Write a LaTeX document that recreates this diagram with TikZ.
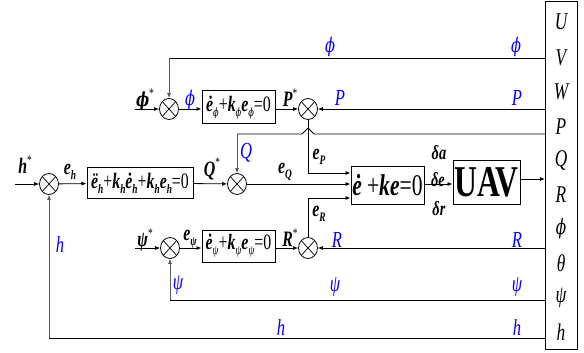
\documentclass[tikz,border=0pt]{standalone}
\usepackage{fontspec}
\setmainfont[FakeStretch=0.72]{Liberation Serif}
\newfontfamily\dvs[FakeStretch=0.72,Scale=0.88]{DejaVu Serif}
\usetikzlibrary{arrows.meta,shapes.geometric}
\newcommand\sbs[1]{\raisebox{-0.5ex}{\fontsize{13}{13}\selectfont #1}}
\newcommand\bi[1]{\textbf{\textit{#1}}}
\newcommand\st{\raisebox{0.9ex}{\fontsize{13}{13}\selectfont *}}
\newcommand\vph{{\dvs ϕ}}
\begin{document}
\begin{tikzpicture}[x=1pt,y=-1pt,
  >={Latex[length=5pt,width=4pt]},
  line width=0.8pt,
  sumn/.style={ellipse,draw,minimum width=19pt,minimum height=21pt,inner sep=0pt,
    path picture={\draw[line width=0.7pt] (path picture bounding box.north west) -- (path picture bounding box.south east)
      (path picture bounding box.south west) -- (path picture bounding box.north east);}},
  blk/.style={draw,rectangle,inner sep=0pt,line width=1pt,font=\fontsize{22}{22}\selectfont},
  lbl/.style={inner sep=0pt,font=\fontsize{22}{22}\selectfont},
  bl/.style={inner sep=0pt,text=blue,font=\fontsize{23}{23}\selectfont\itshape},
  rl/.style={inner sep=0pt,font=\fontsize{24}{24}\selectfont\itshape},
  fb/.style={gray!70!black}]
\useasboundingbox (0,0) rectangle (584,353);

% right output box
\node[draw,line width=1pt,minimum width=32pt,minimum height=348pt,anchor=north west,inner sep=0pt] (rb) at (545,1) {};
\node[rl] (oU) at (561,22) {U};
\node[rl] (oV) at (561,58) {V};
\node[rl] (oW) at (561,92) {W};
\node[rl] (oP) at (561,127) {P};
\node[rl] (oQ) at (561,160) {Q};
\node[rl] (oR) at (561,195) {R};
\node[rl] (ophi) at (561,229) {\vph};
\node[rl] (oth) at (561,263) {θ};
\node[rl] (opsi) at (561,298) {ψ};
\node[rl] (oh) at (561,332) {h};

% summing junctions
\node[sumn] (hsum) at (49,184) {};
\node[sumn] (Qsum) at (237,184) {};
\node[sumn] (phisum) at (169,109) {};
\node[sumn] (Psum) at (308,109) {};
\node[sumn] (psisum) at (170,248) {};
\node[sumn] (Rsum) at (308,248) {};

% blocks
\node[blk,minimum width=106pt,minimum height=31pt] (b2) at (140,183) {\bi{\"{e}}\sbs{\bi{h}}+\bi{k}\sbs{\bi{h}}\bi{\.{e}}\sbs{\bi{h}}+\bi{k}\sbs{\bi{h}}\bi{e}\sbs{\bi{h}}=0};
\node[blk,minimum width=73pt,minimum height=32pt] (b1) at (238.5,107) {\bi{\.{e}}\sbs{\textit{\vph}}+\bi{k}\sbs{\textit{\vph}}\bi{e}\sbs{\textit{\vph}}=0};
\node[blk,minimum width=73pt,minimum height=32pt] (b3) at (238.5,246) {\bi{\.{e}}\sbs{\textit{ψ}}+\bi{k}\sbs{\textit{ψ}}\bi{e}\sbs{\textit{ψ}}=0};
\node[blk,minimum width=73pt,minimum height=38pt,font=\fontsize{30}{30}\selectfont] (eb) at (387.5,185) {\bi{\.{e}}\,+\bi{ke}=0};
\node[blk,minimum width=67pt,minimum height=44pt,font=\fontsize{44}{44}\selectfont\bfseries] (uav) at (486.5,182) {UAV};

% coordinates
\coordinate (hin) at (15,184);
\coordinate (phiin) at (135,109);
\coordinate (psiin) at (135,248);
\coordinate (fphiR) at (545,58);
\coordinate (fphiL) at (169,58);
\coordinate (fQR) at (545,134);
\coordinate (fQL) at (237,134);
\coordinate (hmpA) at (314,134);
\coordinate (hmpB) at (308,128);
\coordinate (hmpC) at (302,134);
\coordinate (epC) at (308,173);
\coordinate (erC) at (308,198);
\coordinate (fpsiR) at (545,300);
\coordinate (fpsiL) at (170,300);
\coordinate (fhR) at (545,338);
\coordinate (fhL) at (49,338);

% forward paths
\draw[->] (hin) -- (hsum);
\draw[->] (hsum) -- (b2);
\draw[->] (b2) -- (Qsum);
\draw[->] (phiin) -- (phisum);
\draw[->] (phisum) -- (b1.west |- phisum);
\draw[->] (b1.east |- Psum) -- (Psum);
\draw[->] (psiin) -- (psisum);
\draw[->] (psisum) -- (b3.west |- psisum);
\draw[->] (b3.east |- Rsum) -- (Rsum);
\draw[->] (Psum) -- (epC) -- (eb.west |- epC);
\draw[->] (Qsum) -- (eb.west |- Qsum);
\draw[->] (Rsum) -- (erC) -- (eb.west |- erC);
\draw[->] (eb.east |- Qsum) -- (uav.west |- Qsum);
\draw[->] (uav.east |- 0,179) -- (rb.west |- 0,179);

% feedback paths
\draw (fphiR) -- (fphiL);
\draw[fb,->] (fphiL) -- (phisum);
\draw[->] (rb.west |- Psum) -- (Psum);
\draw (fQR) -- (hmpA) -- (hmpB) -- (hmpC) -- (fQL);
\draw[fb,->] (fQL) -- (Qsum);
\draw[->] (rb.west |- Rsum) -- (Rsum);
\draw (fpsiR) -- (fpsiL);
\draw[fb,->] (fpsiL) -- (psisum);
\draw (fhR) -- (fhL);
\draw[fb,->] (fhL) -- (hsum);

% black labels
\node[lbl] (lhs) at (25,165) {\bi{h}\st};
\node[lbl] (leh) at (70,172) {\bi{e}\sbs{\bi{h}}};
\node[lbl] (lQs) at (212,169) {\bi{Q}\st};
\node[lbl] (leQ) at (285,172) {\bi{e}\sbs{\bi{Q}}};
\node[lbl] (lphis) at (145,100) {\bi{\vph}\st};
\node[lbl] (lPs) at (290,98) {\bi{P}\st};
\node[lbl] (leP) at (319,157) {\bi{e}\sbs{\bi{P}}};
\node[lbl] (leR) at (319,214) {\bi{e}\sbs{\bi{R}}};
\node[lbl] (lRs) at (290,238) {\bi{R}\st};
\node[lbl] (lpsis) at (145,240) {\bi{ψ}\st};
\node[lbl] (lepsi) at (190,239) {\bi{e}\sbs{\bi{ψ}}};
\node[lbl,font=\fontsize{20}{20}\selectfont] (lda) at (439,153) {\bi{δa}};
\node[lbl,font=\fontsize{20}{20}\selectfont] (lde) at (438,180) {\bi{δe}};
\node[lbl,font=\fontsize{20}{20}\selectfont] (ldr) at (439,209) {\bi{δr}};

% blue labels
\node[bl] (bphi1) at (330,47) {\vph};
\node[bl] (bphi2) at (516,47) {\vph};
\node[bl] (bphi3) at (190,100) {\vph};
\node[bl] (bP1) at (340,98) {P};
\node[bl] (bP2) at (517,98) {P};
\node[bl] (bQ) at (246,153) {Q};
\node[bl] (bR1) at (337,240) {R};
\node[bl] (bR2) at (517,240) {R};
\node[bl] (bh1) at (60,245) {h};
\node[bl] (bpsi1) at (178,285) {ψ};
\node[bl] (bpsi2) at (335,287) {ψ};
\node[bl] (bpsi3) at (517,287) {ψ};
\node[bl] (bh2) at (281,328) {h};
\node[bl] (bh3) at (517,328) {h};
\end{tikzpicture}
\end{document}
